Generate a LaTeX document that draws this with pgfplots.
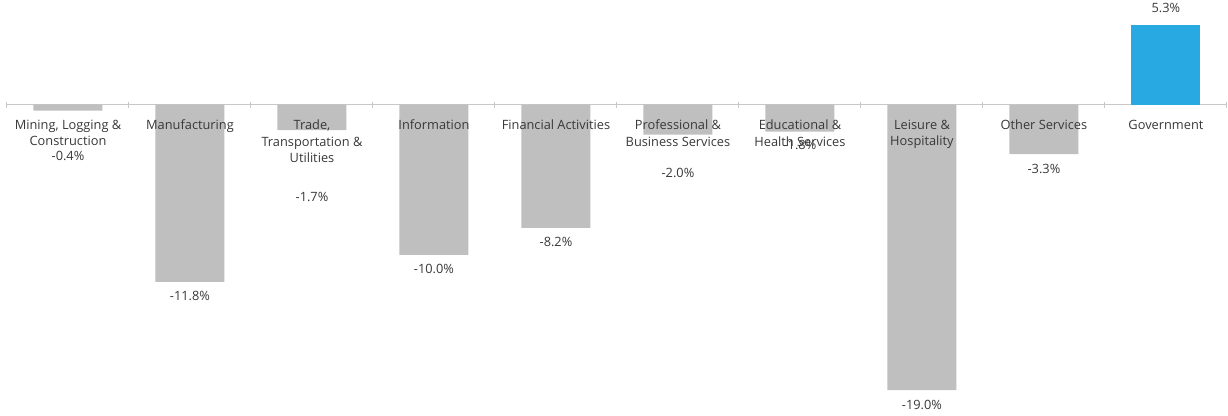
\documentclass[border=0pt]{standalone}
\usepackage{pgfplots}
\pgfplotsset{compat=1.18}
\usepackage{fontspec}
\setmainfont{Open Sans}
\definecolor{barg}{HTML}{BFBFBF}
\definecolor{govb}{HTML}{29A9E1}
\definecolor{txt}{HTML}{383838}
\definecolor{axl}{HTML}{C8C8C8}
\tikzset{
 catlab/.style={anchor=north, align=center, font=\fontsize{12.8}{16.5}\selectfont, text=txt, inner sep=0pt, yshift=-15pt},
 vallab/.style={anchor=center, font=\fontsize{12.8}{14}\selectfont, text=txt, inner sep=0pt},
}
\begin{document}
\begin{tikzpicture}
\begin{axis}[
 scale only axis, width=1220pt, height=365pt,
 xmin=-0.5, xmax=9.5, ymin=-19, ymax=5.3,
 axis x line=middle, axis y line=none,
 x axis line style={-, draw=axl, line width=1pt},
 xtick={-0.5,0.5,...,9.5}, xticklabels={},
 major tick length=6pt, tick style={draw=axl, line width=1pt},
 ytick=\empty,
 clip=false,
 bar width=69pt,
]
\addplot[ybar, bar shift=0pt, fill=barg, draw=none] coordinates {(0,-0.4) (1,-11.8) (2,-1.7) (3,-10.0) (4,-8.2) (5,-2.0) (6,-1.8) (7,-19.0) (8,-3.3)};
\addplot[ybar, bar shift=0pt, fill=govb, draw=none] coordinates {(9,5.3)};
\node[catlab] at (axis cs:0,0) {Mining, Logging \&\\Construction};
\node[catlab] at (axis cs:1,0) {Manufacturing};
\node[catlab] at (axis cs:2,0) {Trade,\\Transportation \&\\Utilities};
\node[catlab] at (axis cs:3,0) {Information};
\node[catlab] at (axis cs:4,0) {Financial Activities};
\node[catlab] at (axis cs:5,0) {Professional \&\\Business Services};
\node[catlab] at (axis cs:6,0) {Educational \&\\Health Services};
\node[catlab] at (axis cs:7,0) {Leisure \&\\Hospitality};
\node[catlab] at (axis cs:8,0) {Other Services};
\node[catlab] at (axis cs:9,0) {Government};
\node[vallab, yshift=-51.4pt] at (axis cs:0,0) {-0.4\%};
\node[vallab, yshift=-191.4pt] at (axis cs:1,0) {-11.8\%};
\node[vallab, yshift=-92.4pt] at (axis cs:2,0) {-1.7\%};
\node[vallab, yshift=-164.4pt] at (axis cs:3,0) {-10.0\%};
\node[vallab, yshift=-137.4pt] at (axis cs:4,0) {-8.2\%};
\node[vallab, yshift=-68.4pt] at (axis cs:5,0) {-2.0\%};
\node[vallab, yshift=-40.4pt] at (axis cs:6,0) {-1.8\%};
\node[vallab, yshift=-300.4pt] at (axis cs:7,0) {-19.0\%};
\node[vallab, yshift=-64.4pt] at (axis cs:8,0) {-3.3\%};
\node[vallab, yshift=96.6pt] at (axis cs:9,0) {5.3\%};
\end{axis}
\pgfresetboundingbox
\useasboundingbox (-7pt,-25pt) rectangle (1221pt,390pt);
\end{tikzpicture}
\end{document}
